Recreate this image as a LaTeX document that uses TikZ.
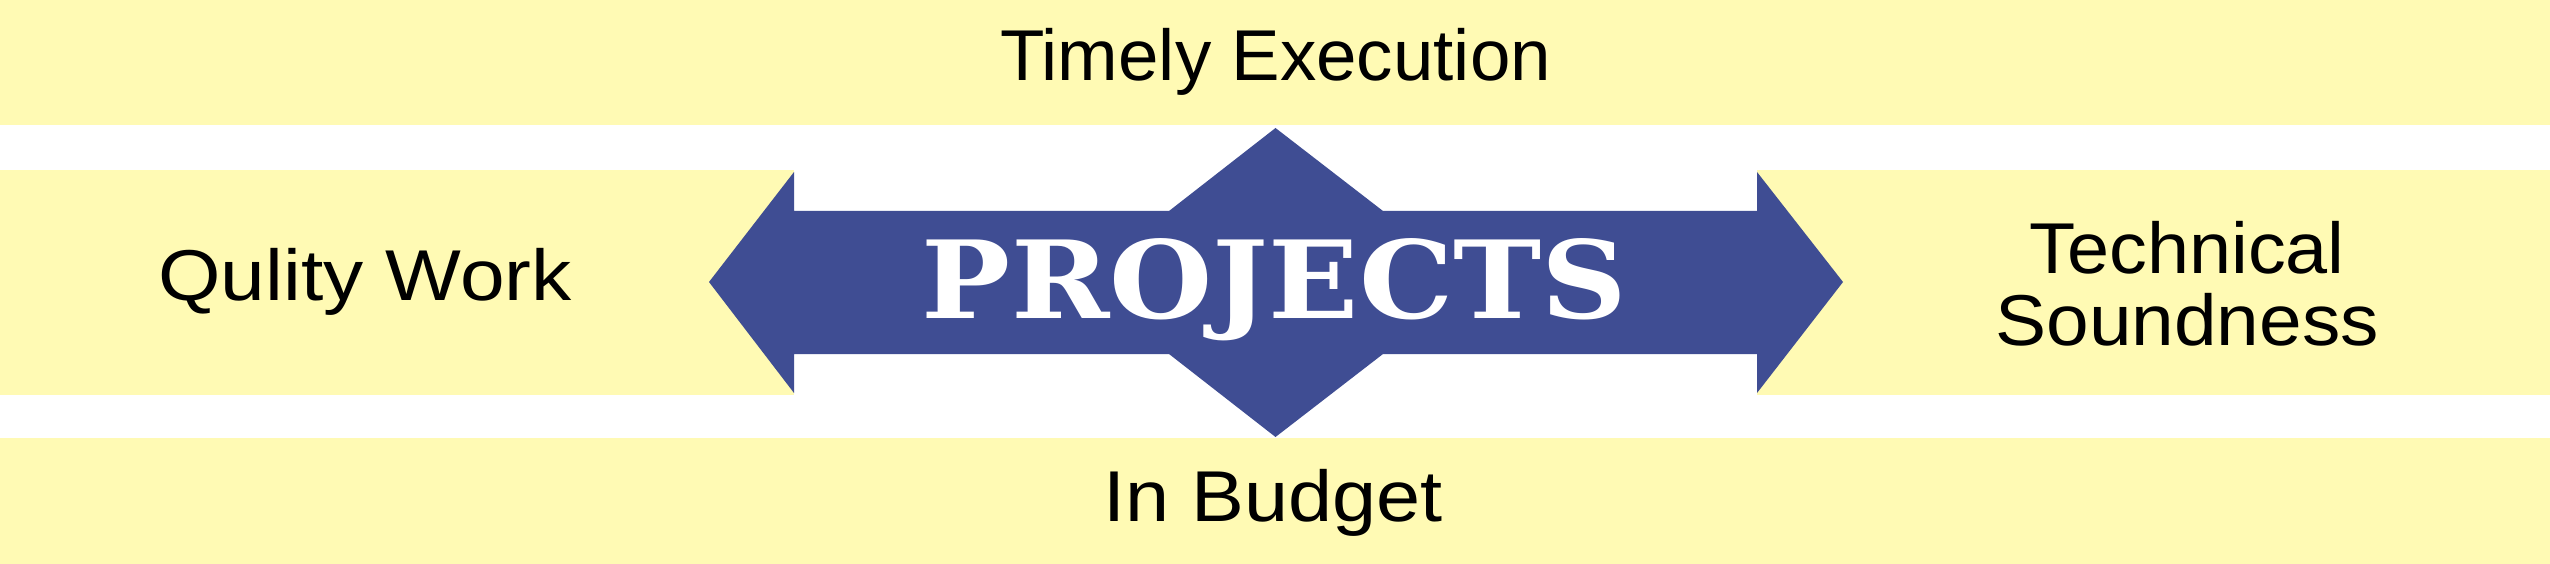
\documentclass[tikz,border=0pt]{standalone}
\usepackage{fontspec}
\setmainfont{Liberation Sans}
\newfontfamily\projfont{DejaVu Serif}[BoldFont={* Bold}]
\definecolor{bandyellow}{HTML}{FFFAB4}
\definecolor{arrowblue}{HTML}{3F4D93}
\begin{document}
\begin{tikzpicture}[x=1pt,y=-1pt,
  band/.style={fill=bandyellow},
  lbl/.style={inner sep=0pt,anchor=base,text=black,font=\fontsize{72}{72}\selectfont}]
\useasboundingbox (0,0) rectangle (2550,564);
\fill[white] (0,0) rectangle (2550,564);
% bands
\fill[band] (0,0) rectangle (2550,125.5);
\fill[band] (0,170) rectangle (794,395);
\fill[band] (1757,170) rectangle (2550,395);
\fill[band] (0,438) rectangle (2550,564);
% arrow
\fill[arrowblue] (709,282) -- (794,172) -- (794,211) -- (1169,211) -- (1275.5,128)
  -- (1383,211) -- (1757,211) -- (1757,172) -- (1843,282) -- (1757,393)
  -- (1757,354) -- (1383,354) -- (1275.5,437) -- (1169,354) -- (794,354)
  -- (794,393) -- cycle;
% texts
\node[lbl] (timely) at (1275.5,81) {\scalebox{1.01}[1]{Timely Execution}};
\node[lbl] (budget) at (1273,521.7) {\scalebox{1.10}[1]{In Budget}};
\node[lbl] (quality) at (365,300) {\scalebox{1.115}[1]{Qulity Work}};
\node[lbl,align=center] (tech) at (2187,345)
  {\scalebox{1.05}[1]{Technical}\\\scalebox{1.064}[1]{Soundness}};
\node[inner sep=0pt,anchor=base,text=white] (proj) at (1274.5,318)
  {\resizebox{705pt}{80pt}{\projfont\bfseries PROJECTS}};
\end{tikzpicture}
\end{document}
